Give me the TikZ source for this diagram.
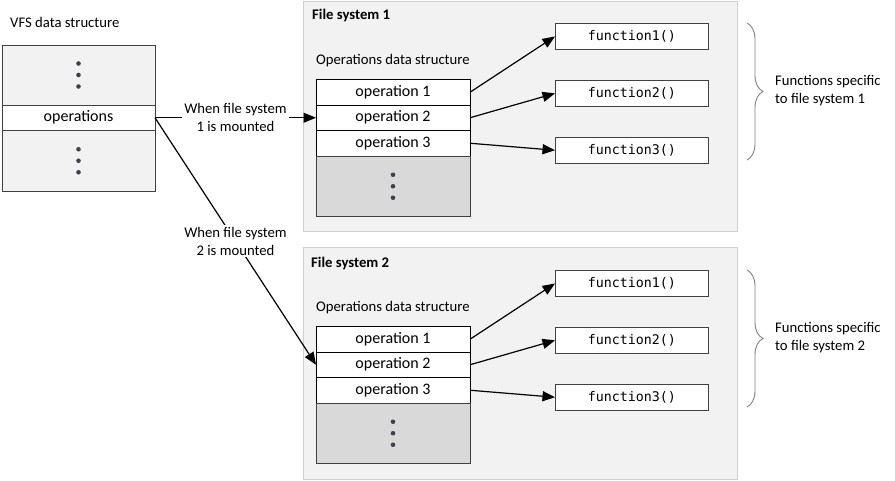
\documentclass[tikz,border=0pt]{standalone}
\usepackage{fontspec}
\setmainfont{Carlito}
\newfontfamily\codefont{DejaVu Sans Mono}
\usetikzlibrary{arrows.meta, positioning, decorations.pathreplacing}
\definecolor{boxgray}{HTML}{F2F2F2}
\definecolor{restgray}{HTML}{D9D9D9}
\definecolor{framegray}{HTML}{D0D0D0}
\definecolor{linegray}{HTML}{404040}
\definecolor{dotgray}{HTML}{404050}
\newcommand{\labelfont}{\fontsize{14.7}{18}\selectfont}
\newcommand{\opfont}{\fontsize{16}{19}\selectfont}
\newcommand{\threedots}[1]{\fill[dotgray] (#1) ++(0,-11.5) circle (2.3pt) ++(0,11.5) circle (2.3pt) ++(0,11.5) circle (2.3pt);}
\tikzset{
    fsframe/.style={rectangle, draw=framegray, fill=boxgray, line width=1pt, minimum width=434pt, inner sep=0pt, outer sep=0pt},
    vfspart/.style={rectangle, draw=linegray, fill=boxgray, line width=0.9pt, minimum width=153pt, inner sep=0pt, outer sep=0pt},
    oprow/.style={rectangle, draw=black, fill=white, line width=0.9pt, minimum width=154pt, minimum height=25.5pt, inner sep=0pt, outer sep=0pt, font=\opfont},
    restrow/.style={oprow, draw=linegray, fill=restgray, minimum height=60.5pt},
    funcbox/.style={rectangle, draw=linegray, fill=white, line width=0.9pt, minimum width=153pt, minimum height=26pt, inner sep=0pt, font=\codefont\fontsize{13.3}{16}\selectfont},
    caption/.style={font=\labelfont, inner sep=0pt},
    arrow/.style={line width=1.2pt, -{Triangle[length=12.5pt, width=10pt]}},
    mountlabel/.style={midway, fill=white, inner sep=2pt, align=center, font=\labelfont},
    fnbrace/.style={draw=gray, line width=0.9pt, decorate, decoration={brace, amplitude=16pt}}
}
\begin{document}
\begin{tikzpicture}[x=1pt, y=-1pt]
    \useasboundingbox (0,0) rectangle (895,481);

    % VFS data structure
    \node (vfstitle) [caption, anchor=west] at (10,22) {VFS data structure};
    \node (vfstop) [vfspart, minimum height=60pt, anchor=north west] at (2,45) {};
    \node (vfsops) [vfspart, fill=white, minimum height=25.5pt, below=0pt of vfstop, font=\opfont] {operations};
    \node (vfsbottom) [vfspart, minimum height=60.5pt, below=0pt of vfsops] {};
    \threedots{vfstop.center}
    \threedots{vfsbottom.center}

    % File system 1
    \node (fs1) [fsframe, minimum height=230pt, anchor=north west] at (303,2) {};
    \node (fs1title) [caption, anchor=west, font=\labelfont\bfseries] at (312,16) {File system 1};
    \node (ops1title) [caption, anchor=west] at (316,61) {Operations data structure};
    \node (op11) [oprow, anchor=north west] at (316,79.5) {operation 1};
    \node (op12) [oprow, below=0pt of op11] {operation 2};
    \node (op13) [oprow, below=0pt of op12] {operation 3};
    \node (rest1) [restrow, below=0pt of op13] {};
    \threedots{rest1.center}
    \node (fn11) [funcbox, anchor=north west] at (555,23) {function1()};
    \node (fn12) [funcbox, below=30pt of fn11] {function2()};
    \node (fn13) [funcbox, below=30pt of fn12] {function3()};
    \coordinate (brace1top) at (747,23);
    \coordinate (brace1bot) at (747,160);
    \node (spec1) [caption, anchor=west, align=left] at (775,91) {Functions specific\\to file system 1};

    % File system 2
    \node (fs2) [fsframe, minimum height=231pt, anchor=north west] at (303,248) {};
    \node (fs2title) [caption, anchor=west, font=\labelfont\bfseries] at (311,263) {File system 2};
    \node (ops2title) [caption, anchor=west] at (316,308) {Operations data structure};
    \node (op21) [oprow, anchor=north west] at (316,326.5) {operation 1};
    \node (op22) [oprow, below=0pt of op21] {operation 2};
    \node (op23) [oprow, below=0pt of op22] {operation 3};
    \node (rest2) [restrow, below=0pt of op23] {};
    \threedots{rest2.center}
    \node (fn21) [funcbox, anchor=north west] at (555,270) {function1()};
    \node (fn22) [funcbox, below=30pt of fn21] {function2()};
    \node (fn23) [funcbox, below=30pt of fn22] {function3()};
    \coordinate (brace2top) at (747,270);
    \coordinate (brace2bot) at (747,407);
    \node (spec2) [caption, anchor=west, align=left] at (775,338) {Functions specific\\to file system 2};

    % Relationships
    \draw [arrow] (vfsops.east) -- node[mountlabel] {When file system\\1 is mounted} (op12.west);
    \draw [arrow] (vfsops.east) -- node[mountlabel] {When file system\\2 is mounted} (op22.west);
    \draw [arrow] (op11.east) -- (fn11.west);
    \draw [arrow] (op12.east) -- (fn12.west);
    \draw [arrow] (op13.east) -- (fn13.west);
    \draw [arrow] (op21.east) -- (fn21.west);
    \draw [arrow] (op22.east) -- (fn22.west);
    \draw [arrow] (op23.east) -- (fn23.west);
    \draw [fnbrace] (brace1top) -- (brace1bot);
    \draw [fnbrace] (brace2top) -- (brace2bot);

\end{tikzpicture}
\end{document}
